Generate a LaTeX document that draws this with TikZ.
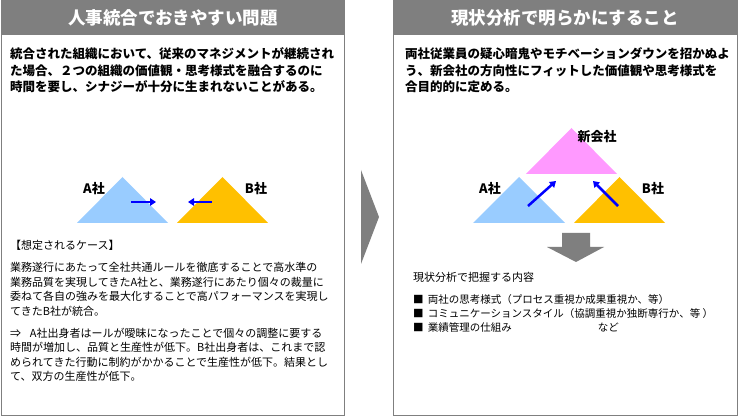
\documentclass[tikz,border=0pt]{standalone}
\usepackage{fontspec}
\setmainfont{Noto Sans CJK JP}
\usetikzlibrary{arrows.meta}
\definecolor{headgray}{RGB}{127,127,127}
\definecolor{lblue}{RGB}{153,204,255}
\definecolor{gold}{RGB}{255,192,0}
\definecolor{lpink}{RGB}{255,153,255}
\newcommand{\panel}[2]{\draw[headgray, fill=white] ( #1 , 0.5 ) rectangle ( #2 , 415.5 ); \fill[headgray] ( #1 , 0.5 ) rectangle ( #2 , 35 );}
\newcommand{\tri}[4]{\fill[#1] ( #2 , #4 ) -- ( #3 , #4 ) -- ( {(#2+#3)/2} , #4 - 46 ) -- cycle;}
\tikzset{
  title/.style={text=white, inner sep=0, font=\bfseries\fontsize{17.5}{20}\selectfont},
  lead/.style={anchor=north west, align=left, inner sep=0, font=\bfseries\fontsize{12.5}{16.5}\selectfont},
  body/.style={anchor=north west, align=left, inner sep=0, font=\fontsize{11}{14.5}\selectfont},
  items/.style={anchor=north west, align=left, inner sep=0, font=\fontsize{10.5}{14}\selectfont},
  firm/.style={inner sep=0, font=\bfseries\fontsize{13}{15}\selectfont},
  push/.style={blue, line width=2.5pt, -{Triangle[length=6pt, width=7.5pt]}}
}
\begin{document}
\begin{tikzpicture}[x=1pt, y=-1pt]
        \useasboundingbox (0,0) rectangle (740,417);
        % left panel
        \panel{1}{344.5}
        \node[title] (titleL) at (173,17.5) {人事統合でおきやすい問題};
        \node[lead] (leadL) at (10,47.75) {統合された組織において、従来のマネジメントが継続され\\た場合、２つの組織の価値観・思考様式を融合するのに\\時間を要し、シナジーが十分に生まれないことがある。};
        \tri{lblue}{77}{168}{223}
        \tri{gold}{177}{268}{223}
        \node[firm] (firmA) at (94,189) {A社};
        \node[firm] (firmB) at (256,189) {B社};
        \coordinate (pushA1) at (131,202);
        \coordinate (pushA2) at (156,202);
        \coordinate (pushB1) at (212,202);
        \coordinate (pushB2) at (188,202);
        \draw[push] (pushA1) -- (pushA2);
        \draw[push] (pushB1) -- (pushB2);
        \node[body] (caseHead) at (10,239.5) {【想定されるケース】};
        \node[body] (caseText) at (10,262.5) {業務遂行にあたって全社共通ルールを徹底することで高水準の\\業務品質を実現してきたA社と、業務遂行にあたり個々の裁量に\\委ねて各自の強みを最大化することで高パフォーマンスを実現し\\てきたB社が統合。};
        \node[body] (caseResult) at (10,327.5) {⇒\hspace{0.8em}A社出身者はールが曖昧になったことで個々の調整に要する\\時間が増加し、品質と生産性が低下。B社出身者は、これまで認\\められてきた行動に制約がかかることで生産性が低下。結果とし\\て、双方の生産性が低下。};
        % middle chevron
        \fill[headgray] (361,170) -- (379,217) -- (361,264) -- cycle;
        % right panel
        \panel{393}{737.5}
        \node[title] (titleR) at (565,17.5) {現状分析で明らかにすること};
        \node[lead] (leadR) at (405,47.75) {両社従業員の疑心暗鬼やモチベーションダウンを招かぬよ\\う、新会社の方向性にフィットした価値観や思考様式を\\合目的的に定める。};
        \tri{lpink}{526}{617}{174}
        \tri{lblue}{473}{565}{223}
        \tri{gold}{574}{665}{223}
        \node[firm] (firmNew) at (597,137) {新会社};
        \node[firm] (firmA2) at (490,189) {A社};
        \node[firm] (firmB2) at (653,189) {B社};
        \coordinate (pushC1) at (528,206);
        \coordinate (pushC2) at (556,181);
        \coordinate (pushD1) at (618,206);
        \coordinate (pushD2) at (593,181);
        \draw[push] (pushC1) -- (pushC2);
        \draw[push] (pushD1) -- (pushD2);
        \fill[headgray] (562,233) -- (590,233) -- (590,247) -- (604,247) -- (576,262) -- (547,247) -- (562,247) -- cycle;
        \node[body] (scopeHead) at (413,272.5) {現状分析で把握する内容};
        \node[items] (scopeList) at (413,294.75) {■\hspace{0.4em}両社の思考様式（プロセス重視か成果重視か、等）\\■\hspace{0.4em}コミュニケーションスタイル（協調重視か独断専行か、等 ）\\■\hspace{0.4em}業績管理の仕組み\hspace{86pt}など};
\end{tikzpicture}
\end{document}
